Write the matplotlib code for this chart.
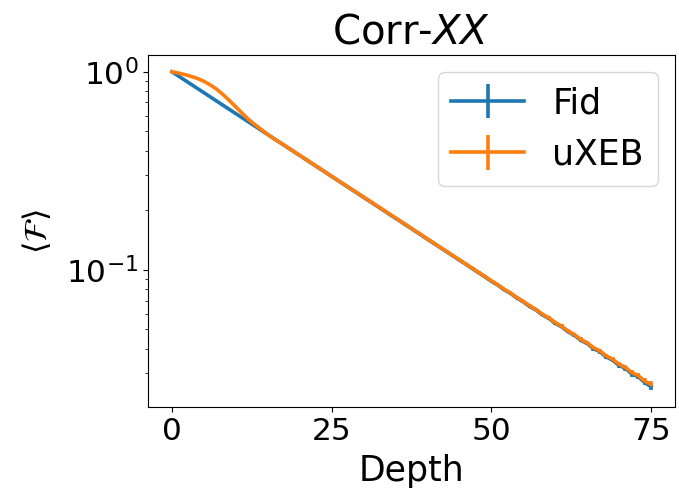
import matplotlib
matplotlib.use("Agg")
import matplotlib.pyplot as plt
import numpy as np

depth = np.arange(76)

# Mean fidelity per circuit depth
fid = [
    1.0000, 0.9525, 0.9073, 0.8642, 0.8231, 0.7840, 0.7468, 0.7113, 0.6775, 0.6454,
    0.6147, 0.5855, 0.5577, 0.5312, 0.5060, 0.4820, 0.4591, 0.4373, 0.4165, 0.3967,
    0.3779, 0.3599, 0.3428, 0.3266, 0.3111, 0.2963, 0.2822, 0.2688, 0.2561, 0.2439,
    0.2323, 0.2213, 0.2108, 0.2008, 0.1912, 0.1822, 0.1735, 0.1653, 0.1574, 0.1499,
    0.1428, 0.1360, 0.1296, 0.1234, 0.1176, 0.1120, 0.1067, 0.1016, 0.0968, 0.0922,
    0.0876, 0.0838, 0.0794, 0.0761, 0.0720, 0.0690, 0.0653, 0.0627, 0.0592, 0.0569,
    0.0537, 0.0516, 0.0487, 0.0468, 0.0441, 0.0425, 0.0400, 0.0386, 0.0363, 0.0350,
    0.0329, 0.0318, 0.0298, 0.0289, 0.0270, 0.0257,
]

# Unbiased XEB estimate per circuit depth
uxeb = [
    1.000, 0.986, 0.968, 0.948, 0.925, 0.895, 0.859, 0.817, 0.767, 0.716,
    0.665, 0.617, 0.575, 0.541, 0.511, 0.483, 0.459, 0.438, 0.418, 0.398,
    0.379, 0.361, 0.344, 0.328, 0.312, 0.297, 0.2830, 0.2700, 0.2570, 0.2452,
    0.2332, 0.2225, 0.2117, 0.2020, 0.1921, 0.1833, 0.1742, 0.1663, 0.1581, 0.1508,
    0.1434, 0.1368, 0.1301, 0.1242, 0.1181, 0.1127, 0.1071, 0.1023, 0.0972, 0.0928,
    0.0882, 0.0842, 0.0800, 0.0765, 0.0726, 0.0694, 0.0659, 0.0631, 0.0598, 0.0573,
    0.0543, 0.0520, 0.0492, 0.0472, 0.0446, 0.0429, 0.0405, 0.0390, 0.0368, 0.0354,
    0.0334, 0.0322, 0.0303, 0.0293, 0.0275, 0.0264,
]

# Standard error of the mean (roughly constant across depths)
fid_err = 0.0009
uxeb_err = 0.0010

fig = plt.figure(figsize=(6.79, 4.93), dpi=100)
ax = fig.add_axes([0.218, 0.1744, 0.776, 0.714])

ax.errorbar(depth, fid, yerr=fid_err, color="tab:blue", lw=2.6, label="Fid")
ax.errorbar(depth, uxeb, yerr=uxeb_err, color="tab:orange", lw=2.6, label="uXEB")

ax.set_yscale("log")
ax.set_xlim(-3.75, 78.75)
ax.set_ylim(0.0203, 1.215)
ax.set_xticks([0, 25, 50, 75])
ax.tick_params(labelsize=22.5)

ax.set_xlabel("Depth", fontsize=25, labelpad=6)
ax.set_ylabel(r"$\langle \mathcal{F} \rangle$", fontsize=23, labelpad=9)
ax.set_title(r"Corr-$XX$", fontsize=29, pad=8)

ax.legend(loc="upper right", fontsize=25, handlelength=2.1)

fig.savefig("out.png", dpi=100)
